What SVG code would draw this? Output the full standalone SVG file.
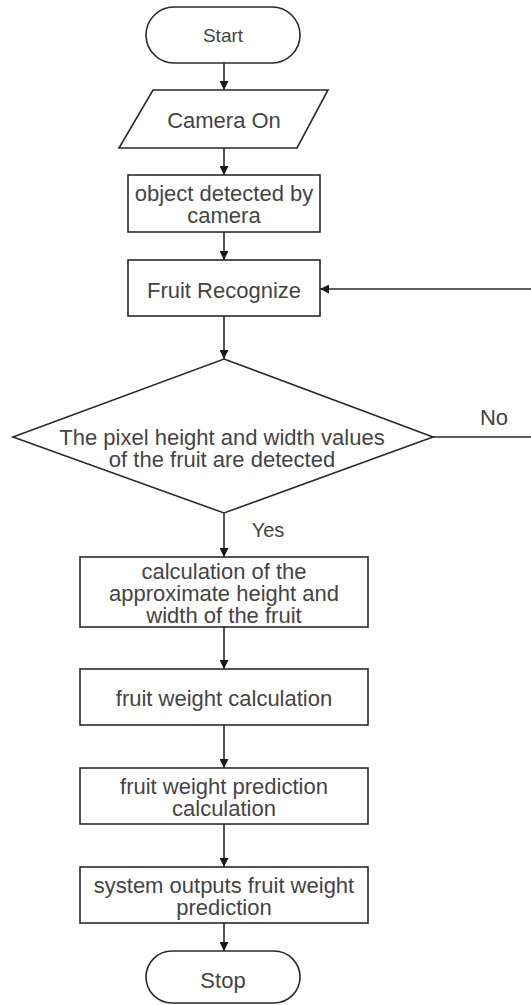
<svg xmlns="http://www.w3.org/2000/svg" width="531" height="1005" viewBox="0 0 531 1005">
<style>
.shape{fill:#fff;stroke:#2a2a2a;stroke-width:1.6}
.lbl{font-family:"Liberation Sans",Arial,sans-serif;font-size:22px;fill:#444;text-anchor:middle;dominant-baseline:central}
.edge{fill:none;stroke:#2a2a2a;stroke-width:1.6;marker-end:url(#ah)}
</style>
<defs>
<marker id="ah" viewBox="0 0 10 10" refX="10" refY="5" markerWidth="9" markerHeight="9" markerUnits="userSpaceOnUse" orient="auto">
<path d="M0,0 L10,5 L0,10 Z" fill="#1a1a1a"/>
</marker>
</defs>
<rect width="531" height="1005" fill="#fff"/>
<g id="connectors">
<line class="edge" x1="224" y1="63" x2="224" y2="90"/>
<line class="edge" x1="224" y1="148" x2="224" y2="175"/>
<line class="edge" x1="224" y1="232" x2="224" y2="260"/>
<line class="edge" x1="224" y1="316" x2="224" y2="359"/>
<line class="edge" x1="224" y1="513" x2="224" y2="557"/>
<line class="edge" x1="224" y1="627" x2="224" y2="669"/>
<line class="edge" x1="224" y1="725" x2="224" y2="768"/>
<line class="edge" x1="224" y1="824" x2="224" y2="867"/>
<line class="edge" x1="224" y1="923" x2="224" y2="951"/>
<path class="edge" d="M433,437 L545,437 L545,289 L320,289"/>
<text class="lbl" x="494" y="417">No</text>
<text class="lbl" x="268" y="530" style="font-size:20px">Yes</text>
</g>
<g id="start">
<rect class="shape" x="146" y="7" width="154" height="56" rx="28"/>
<text class="lbl" x="223" y="35" style="font-size:19px">Start</text>
</g>
<g id="camera-on">
<polygon class="shape" points="153,90 328,90 297,148 119,148"/>
<text class="lbl" x="224" y="120">Camera On</text>
</g>
<g id="object-detected">
<rect class="shape" x="128" y="175" width="192" height="57"/>
<text class="lbl" x="224" y="193">object detected by</text>
<text class="lbl" x="224" y="215">camera</text>
</g>
<g id="fruit-recognize">
<rect class="shape" x="128" y="260" width="192" height="56"/>
<text class="lbl" x="224" y="290">Fruit Recognize</text>
</g>
<g id="decision">
<polygon class="shape" points="224,359 433,437 224,513 13,437"/>
<text class="lbl" x="222" y="437">The pixel height and width values</text>
<text class="lbl" x="222" y="459">of the fruit are detected</text>
</g>
<g id="approx-calc">
<rect class="shape" x="80" y="557" width="288" height="70"/>
<text class="lbl" x="224" y="571">calculation of the</text>
<text class="lbl" x="224" y="593">approximate height and</text>
<text class="lbl" x="224" y="615">width of the fruit</text>
</g>
<g id="weight-calc">
<rect class="shape" x="80" y="669" width="288" height="56"/>
<text class="lbl" x="224" y="698">fruit weight calculation</text>
</g>
<g id="prediction-calc">
<rect class="shape" x="80" y="768" width="288" height="56"/>
<text class="lbl" x="224" y="786">fruit weight prediction</text>
<text class="lbl" x="224" y="808">calculation</text>
</g>
<g id="system-output">
<rect class="shape" x="80" y="867" width="288" height="56"/>
<text class="lbl" x="224" y="885">system outputs fruit weight</text>
<text class="lbl" x="224" y="907">prediction</text>
</g>
<g id="stop">
<rect class="shape" x="146" y="951" width="154" height="52" rx="26"/>
<text class="lbl" x="223" y="980">Stop</text>
</g>
</svg>
